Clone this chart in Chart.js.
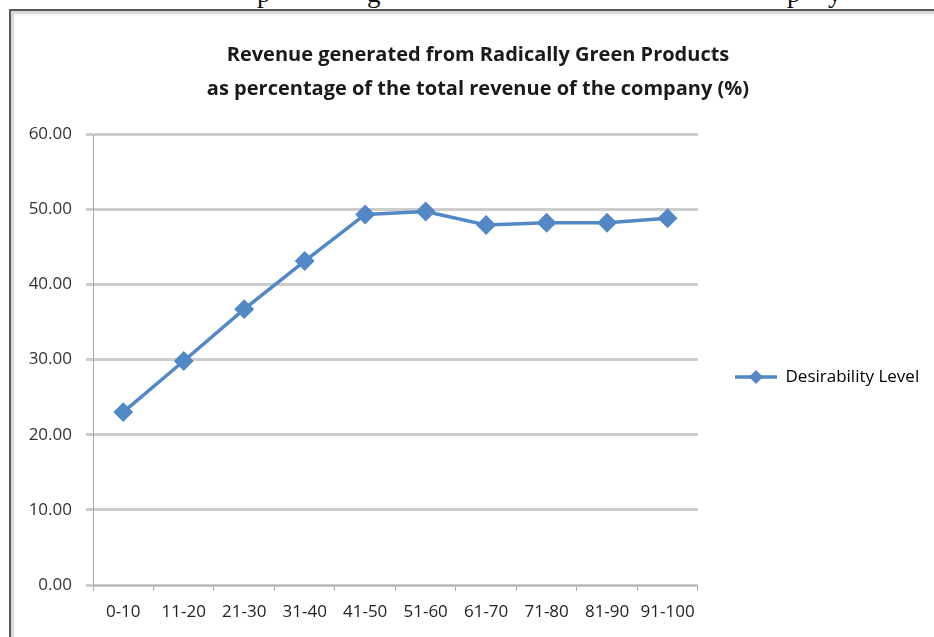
<!DOCTYPE html>
<html>
<head>
<meta charset="utf-8">
<script src="https://cdn.jsdelivr.net/npm/chart.js@4"></script>
<style>
  html, body { margin: 0; padding: 0; background: #fff; }
  #page { position: relative; width: 934px; height: 637px; overflow: hidden; }
  .acima { position: absolute; top: -22px; font-family: "Liberation Serif", serif; font-size: 27px; color: #111; }
  #frame { position: absolute; left: 9px; top: 9px; width: 940px; height: 640px; border-left: 2px solid #5a5a5a; border-top: 2px solid #5a5a5a; box-shadow: inset 3px 3px 2px #d6d6d6; background: #fff; }
  #wrap { position: absolute; left: 0; top: 0; width: 934px; height: 637px; }
</style>
</head>
<body>
<div id="page">
  <span class="acima" style="left:257px">p</span>
  <span class="acima" style="left:367px">g</span>
  <span class="acima" style="left:787px">p</span>
  <span class="acima" style="left:828px">y</span>
  <div id="frame"></div>
  <div id="wrap"><canvas id="grafico"></canvas></div>
</div>
<script>
const categorias = ['0-10', '11-20', '21-30', '31-40', '41-50', '51-60', '61-70', '71-80', '81-90', '91-100'];
const desirability = [23.0, 29.8, 36.7, 43.1, 49.3, 49.7, 47.9, 48.2, 48.2, 48.8];
const tituloLinhas = ['Revenue generated from Radically Green Products', 'as percentage of the total revenue of the company (%)'];
const nomeSerie = 'Desirability Level';

const azul = '#5288c6';
const fonte = '"Open Sans", sans-serif';

// legend symbol: short line with a diamond
const simbolo = document.createElement('canvas');
simbolo.width = 42; simbolo.height = 16;
(function () {
    const c = simbolo.getContext('2d');
    c.strokeStyle = azul; c.lineWidth = 3.5;
    c.beginPath(); c.moveTo(0, 8); c.lineTo(42, 8); c.stroke();
    c.fillStyle = azul;
    c.beginPath(); c.moveTo(21, 1); c.lineTo(28, 8); c.lineTo(21, 15); c.lineTo(14, 8); c.closePath(); c.fill();
})();

// put legend and title where the original has them
const posBlocos = {
    id: 'posBlocos',
    beforeDraw(chart) {
        const lg = chart.legend;
        const w = lg.right - lg.left, h = lg.bottom - lg.top;
        lg.left = 735; lg.right = 735 + w;
        lg.top = 377 - h / 2; lg.bottom = 377 + h / 2;

        const t = chart.titleBlock;
        const dx = 478 - (t.left + t.right) / 2;
        t.left += dx; t.right += dx;
    }
};

const ctx = document.getElementById('grafico').getContext('2d');
new Chart(ctx, {
    type: 'line',
    data: {
        labels: categorias,
        datasets: [{
            label: nomeSerie,
            data: desirability,
            borderColor: azul,
            backgroundColor: azul,
            borderWidth: 3.5,
            pointStyle: 'rectRot',
            pointRadius: 7.5,
            pointHoverRadius: 7.5,
            tension: 0
        }]
    },
    plugins: [posBlocos],
    options: {
        responsive: true,
        maintainAspectRatio: false,
        animation: false,
        layout: { padding: { top: 14, left: 20, right: 42, bottom: 10 } },
        plugins: {
            title: {
                display: true,
                text: tituloLinhas,
                color: '#1a1a1a',
                font: { family: fonte, size: 20, weight: 'bold', lineHeight: 1.7 },
                padding: { top: 24, bottom: 28 }
            },
            legend: {
                display: true,
                position: 'right',
                labels: {
                    usePointStyle: true,
                    pointStyleWidth: 42,
                    boxHeight: 16,
                    color: '#222',
                    font: { family: fonte, size: 17 },
                    padding: 0,
                    generateLabels: () => [{
                        text: nomeSerie,
                        pointStyle: simbolo,
                        fillStyle: azul,
                        strokeStyle: azul,
                        lineWidth: 0,
                        datasetIndex: 0
                    }]
                }
            },
            tooltip: { enabled: false }
        },
        scales: {
            x: {
                offset: true,
                grid: { display: true, drawOnChartArea: false, drawTicks: true, tickLength: 6, color: '#a8a8a8', offset: true },
                border: { color: '#b0b0b0', width: 1 },
                ticks: { color: '#222', font: { family: fonte, size: 17 }, padding: 11, maxRotation: 0 },
                afterFit: (s) => { s.height = 42; }
            },
            y: {
                min: 0,
                max: 60,
                ticks: {
                    stepSize: 10,
                    color: '#333',
                    font: { family: fonte, size: 17 },
                    padding: 14,
                    callback: (v) => v.toFixed(2)
                },
                grid: { color: '#cdcdcd', lineWidth: 3, tickLength: 7 },
                border: { color: '#a8a8a8', width: 1 },
                afterFit: (s) => { s.width = 73; }
            }
        }
    }
});
</script>
</body>
</html>
